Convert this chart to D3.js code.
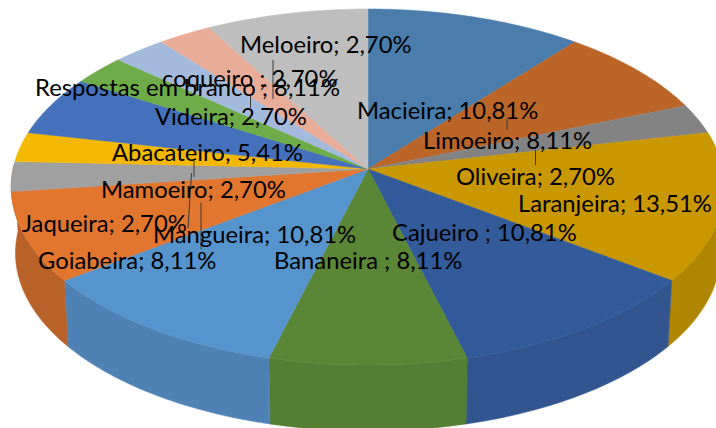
<!DOCTYPE html>
<html><head><meta charset="utf-8">
<script src="https://cdn.jsdelivr.net/npm/d3@7/dist/d3.min.js"></script>
<style>html,body{margin:0;background:#fff}svg{display:block}</style></head>
<body><svg id="c" width="716" height="428"></svg>
<script>
const categories=["Macieira","Limoeiro","Oliveira","Laranjeira","Cajueiro ","Bananeira ","Mangueira","Goiabeira","Jaqueira","Mamoeiro","Abacateiro","Videira","coqueiro ","Meloeiro","Respostas em branco "];
const values=[10.81,8.11,2.70,13.51,10.81,8.11,10.81,8.11,2.70,2.70,5.41,2.70,2.70,2.70,8.11];
const labelText=["Macieira; 10,81%","Limoeiro; 8,11%","Oliveira; 2,70%","Laranjeira; 13,51%","Cajueiro ; 10,81%","Bananeira ; 8,11%","Mangueira; 10,81%","Goiabeira; 8,11%","Jaqueira; 2,70%","Mamoeiro; 2,70%","Abacateiro; 5,41%","Videira; 2,70%","coqueiro ; 2,70%","Meloeiro; 2,70%","Respostas em branco ; 8,11%"];
const topColors=["#4a7dab","#bb6528","#838383","#c99700","#335a9b","#5a8636","#5694cd","#e2762f","#a0a0a0","#f4b800","#4470bc","#6fab47","#a3badc","#e9ac98","#bebebe"];
const sideColors=["#3f6a91","#9f5622","#6f6f6f","#b08500","#32548f","#547e33","#4e82b5","#b8622a","#888888","#cf9c00","#3a5fa0","#5e913c","#8a9ebb","#c69281","#a2a2a2"];
const labelX=[357,423,456,518,392,274,153,38,22,101,112,155,162,240,35];
const labelY=[119,149,185,212,241,269,243,269,232,198,161,125,87,53,96];
const leaders=[[507,119,507,130],[535.5,150,535.5,165],[273,60,273,99],[250.5,95,250.5,108],[194,161,194,177],[191.5,173,188,228],[201,203,201,249]];

const cx=368,cy=169,k=0.1011,b=355,a=176.2,depth=66,shrink=0.988;
const svg=d3.select("#c");
const pie=d3.pie().sort(null).startAngle(0).endAngle(2*Math.PI)(values);
const project=(t,bottom)=>{
  const u=Math.sin(t),v=-Math.cos(t),w=1-k*v;
  const s=bottom?shrink:1;
  return [cx+s*b*u/w,cy+a*v/w+(bottom?depth:0)];
};
const line=d3.line();
const arcPts=(t0,t1,bottom)=>d3.range(0,41).map(i=>project(t0+(t1-t0)*i/40,bottom));

// side wall: the front of the drum, from the right rim round to the left rim
const lo=Math.PI/2-0.08,hi=3*Math.PI/2+0.02;
const lastWall=d3.bisectLeft(pie.map(d=>d.endAngle),Math.PI*1.45);
pie.forEach((d,i)=>{
  if(i>lastWall)return;
  const t0=Math.max(d.startAngle,lo),t1=i===lastWall?hi:d.endAngle;
  if(t1<=t0)return;
  const top=arcPts(t0,t1,false),bot=arcPts(t0,t1,true).reverse();
  svg.append("path").attr("d",line(top.concat(bot))+"Z").attr("fill",sideColors[i]).attr("stroke",sideColors[i]).attr("stroke-width",0.5);
});
// top face
pie.forEach((d,i)=>{
  svg.append("path").attr("d",line([[cx,cy]].concat(arcPts(d.startAngle,d.endAngle,false)))+"Z")
    .attr("fill",topColors[i]).attr("stroke",topColors[i]).attr("stroke-width",0.5);
});
leaders.forEach(l=>svg.append("line").attr("x1",l[0]).attr("y1",l[1]).attr("x2",l[2]).attr("y2",l[3]).attr("stroke","#3a3a3a").attr("stroke-width",1));
labelText.forEach((t,i)=>svg.append("text").attr("x",labelX[i]).attr("y",labelY[i])
  .attr("font-family","Lato, 'Open Sans', sans-serif").attr("font-size",23.8).attr("fill","#000").text(t));
</script></body></html>
